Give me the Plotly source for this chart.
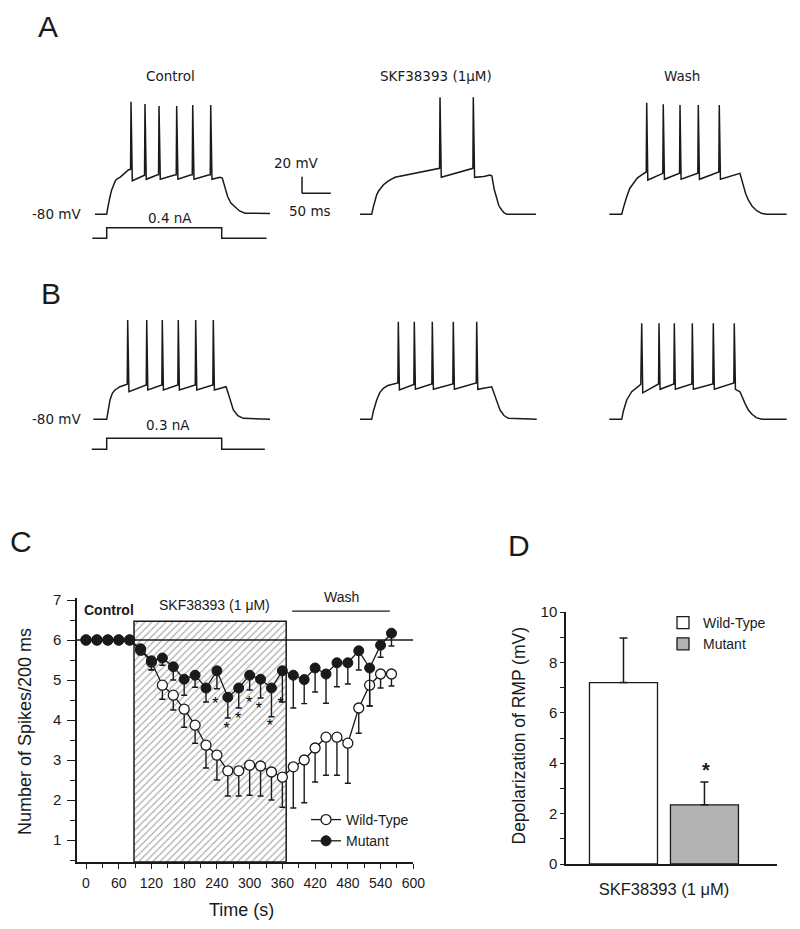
import plotly.graph_objects as go

W, H = 800, 929
KX, KY = 0.575, 0.833          # px per ms, px per mV for the voltage traces
BASE_MV = -80

# ---------------- Panel C data ----------------
time_s = [0, 20, 40, 60, 80, 100, 120, 140, 160, 180, 200, 220, 240, 260, 280,
          300, 320, 340, 360, 380, 400, 420, 440, 460, 480, 500, 520, 540, 560]
wt_mean = [6, 6, 6, 6, 6, 5.75, 5.45, 4.87, 4.62, 4.27, 3.87, 3.37, 3.12, 2.73, 2.73,
           2.87, 2.85, 2.70, 2.57, 2.83, 3.00, 3.30, 3.57, 3.57, 3.42, 4.30, 4.87, 5.15, 5.15]
wt_sem = [0, 0, 0, 0, 0, 0.12, 0.20, 0.35, 0.37, 0.45, 0.45, 0.57, 0.62, 0.63, 0.63,
          0.75, 0.75, 0.70, 0.75, 1.03, 1.07, 0.85, 0.95, 0.95, 1.00, 0.63, 0.52, 0.35, 0.30]
mut_mean = [6, 6, 6, 6, 6, 5.78, 5.48, 5.55, 5.33, 5.02, 5.12, 4.80, 5.23, 4.57, 4.80,
            5.12, 5.02, 4.80, 5.23, 5.12, 5.01, 5.30, 5.15, 5.43, 5.43, 5.73, 5.30, 5.87, 6.17]
mut_sem = [0, 0, 0, 0, 0, 0.13, 0.22, 0.18, 0.33, 0.40, 0.30, 0.35, 0.45, 0.52, 0.50,
           0.37, 0.47, 0.72, 0.78, 0.82, 0.60, 0.60, 0.73, 0.60, 0.53, 0.48, 0.95, 0.30, 0.32]
star_t = [237, 258, 279, 299, 317, 337, 357]
star_y = [4.37, 3.75, 4.00, 4.40, 4.25, 3.83, 4.37]
skf_start, skf_end, skf_top = 88, 367, 6.47
baseline_spikes = 6
wash_start, wash_end, wash_level = 378, 557, 6.72

# ---------------- Panel D data ----------------
groups = ["Wild-Type", "Mutant"]
rmp_mean = [7.2, 2.35]
rmp_sem = [1.77, 0.90]
d_category = "SKF38393 (1 μM)"

# ---------------- Panels A/B voltage traces (ms, mV) ----------------
A_CTRL = [(-20.3, -80), (0, -80), (1.7, -72.8), (3.5, -65), (5.7, -58.9), (8.5, -51), (11.5, -44.8),
          (14.5, -40.5), (17.4, -37.6), (23.1, -35.6), (30, -31.5), (37.6, -26.8), (41.5, -26),
          (42.3, 55.2), (44.5, -39.7),
          (61.9, -34), (65.8, -33), (66.6, 52.4), (68.8, -38),
          (87.5, -32.8), (90.2, -32.5), (91.0, 50), (93.2, -38),
          (117.9, -32.8), (120.9, -32.5), (121.7, 50), (123.9, -38),
          (145.7, -32.8), (148.8, -32.5), (149.6, 51.2), (151.8, -38),
          (177.0, -32.8), (180.1, -32.5), (180.9, 51.2), (183.1, -38),
          (197.0, -35.6), (201.0, -36.4), (205.0, -46), (210.4, -58.9), (216, -66.5), (223.1, -71.6),
          (231, -76), (240.5, -78.8), (284, -79)]
A_SKF = [(-20.3, -80), (0, -80), (2.5, -72), (5.7, -62.8), (8.5, -57), (12, -52), (16, -48),
         (20.2, -44.8), (25, -42), (30, -39.5), (40.5, -35.6), (118.0, -24.8), (118.8, 60.5),
         (121.0, -35.6),
         (176.0, -24.8), (176.7, 60.5), (178.9, -35.6), (195, -34.5), (205.7, -32.8),
         (209, -34), (213, -50), (217.4, -62.8), (221, -69.5), (226.1, -74.8), (230, -78),
         (234.8, -80), (285.7, -80)]
A_WASH = [(-21.6, -80), (0, -80), (3, -72), (5.5, -65), (8.7, -58.9), (14, -49), (20.2, -42.8),
          (27, -36.5), (34.8, -32.8), (42.7, -29.2), (43.5, 54), (45.4, -38.8),
          (71.5, -30.8), (72.3, 52), (74.3, -38),
          (100.6, -30.8), (101.4, 51.2), (103.3, -38),
          (132.4, -30.8), (133.2, 51.2), (135.2, -38),
          (168.9, -29.2), (169.7, 51.2), (171.7, -38),
          (205.7, -30.8), (211.5, -44.8), (215.5, -55), (220.2, -62.8), (227, -70.5),
          (234.8, -75.7), (243, -78.8), (252.2, -80), (287, -80)]
B_CTRL = [(-23.3, -80), (0, -80), (2.5, -70), (5.7, -56.8), (10, -48.5), (14.4, -44.8),
          (23.1, -40.9), (35.7, -38), (36.5, 39.2), (38.7, -46.9),
          (68.8, -38.8), (69.6, 39.2), (71.5, -44.8),
          (95.9, -38.8), (96.7, 39.2), (98.6, -44.8),
          (123.7, -38.8), (124.5, 39.2), (126.4, -44.8),
          (154.0, -38.8), (154.8, 39.2), (156.7, -44.8),
          (184.6, -38.8), (185.4, 39.2), (187.3, -44.8),
          (207.5, -40.9), (211, -48), (214.4, -56.8), (220.2, -68.8), (228, -75.5),
          (237.6, -78.8), (284, -80)]
B_SKF = [(-20.3, -80), (0, -80), (3, -70), (8.7, -56.8), (14, -48), (20.2, -42.8), (28, -39.5),
         (37.6, -37.6), (45.5, -36.4), (46.3, 37.2), (48.2, -44.8),
         (73.3, -38.2), (74.1, 37.2), (76.0, -44),
         (104.6, -37.6), (105.4, 37.2), (107.3, -44),
         (141.1, -37.6), (141.9, 37.2), (143.8, -44),
         (181.8, -36.4), (182.6, 37.2), (184.5, -44),
         (208.7, -41), (214.4, -52.9), (223.1, -68.8), (230, -75.5), (237.6, -78.8), (287, -80)]
B_WASH = [(-21.6, -80), (0, -80), (3, -70), (8.7, -56.8), (17.4, -46.9), (28.9, -40),
          (33.2, -38), (34.8, 35.2), (36.6, -48.2),
          (64.1, -37.6), (64.9, 35.2), (66.7, -44),
          (90.7, -37.6), (91.5, 35.2), (93.3, -44),
          (122.0, -37.6), (122.8, 35.2), (124.6, -44),
          (158.5, -37.6), (159.3, 35.2), (161.1, -44),
          (195.0, -36.4), (195.8, 35.2), (197.8, -44),
          (205.7, -46.9), (214.4, -60.8), (220, -68.5), (226.1, -73.6), (234, -78),
          (243.5, -80), (287, -80)]
# current steps (ms, nA)
I_A = [(-25, 0), (0, 0), (0, 0.4), (200, 0.4), (200, 0), (278, 0)]
I_B = [(-26, 0), (0, 0), (0, 0.3), (200, 0.3), (200, 0), (275, 0)]
SCALE_MV, SCALE_MS = 20, 50

# ---------------- helpers ----------------
def fx(px):
    return px / W

def fy(py):
    return 1 - py / H

def unzip(pts):
    return [p[0] for p in pts], [p[1] for p in pts]

FONT_SANS = "Arial, Liberation Sans, sans-serif"
FONT_DJ = "DejaVu Sans, Verdana, sans-serif"
INK = "#1a1a1a"

def trace_axes(x0, yb, t_rng=(-30, 300), v_rng=(-100, 70)):
    left = x0 + t_rng[0] * KX
    right = x0 + t_rng[1] * KX
    top = yb - (v_rng[1] - BASE_MV) * KY
    bot = yb - (v_rng[0] - BASE_MV) * KY
    xa = dict(domain=[fx(left), fx(right)], range=list(t_rng), visible=False, fixedrange=True,
              automargin=False)
    ya = dict(domain=[fy(bot), fy(top)], range=list(v_rng), visible=False, fixedrange=True,
              automargin=False)
    return xa, ya

def cur_axes(x0, yb, k, i_rng, t_rng=(-30, 300)):
    left = x0 + t_rng[0] * KX
    right = x0 + t_rng[1] * KX
    top = yb - i_rng[1] * k
    bot = yb - i_rng[0] * k
    xa = dict(domain=[fx(left), fx(right)], range=list(t_rng), visible=False, automargin=False)
    ya = dict(domain=[fy(bot), fy(top)], range=list(i_rng), visible=False, automargin=False)
    return xa, ya

fig = go.Figure()

# ---------------- Panel C ----------------
fig.add_trace(go.Bar(
    x=[(skf_start + skf_end) / 2], y=[skf_top - 0.45], base=[0.45], width=[skf_end - skf_start],
    marker=dict(color="white", line=dict(color=INK, width=1.5),
                pattern=dict(shape="/", fgcolor="#a8a8a8", bgcolor="white", size=5, solidity=0.22)),
    showlegend=False, hoverinfo="skip", xaxis="x", yaxis="y"))
fig.add_trace(go.Scatter(x=[-16.5, 600], y=[baseline_spikes, baseline_spikes], mode="lines",
                         line=dict(color=INK, width=1.3), showlegend=False, hoverinfo="skip",
                         xaxis="x", yaxis="y"))
fig.add_trace(go.Scatter(x=[wash_start, wash_end], y=[wash_level, wash_level], mode="lines",
                         line=dict(color=INK, width=1.3), showlegend=False, hoverinfo="skip",
                         xaxis="x", yaxis="y", cliponaxis=False))
fig.add_trace(go.Scatter(
    x=time_s, y=wt_mean, mode="lines+markers", name="Wild-Type",
    line=dict(color=INK, width=1.3),
    marker=dict(symbol="circle", size=10, color="white", line=dict(color=INK, width=1.3)),
    error_y=dict(type="data", symmetric=False, array=[0] * len(wt_sem), arrayminus=wt_sem,
                 color=INK, thickness=1.4, width=3),
    xaxis="x", yaxis="y", legend="legend"))
fig.add_trace(go.Scatter(
    x=time_s, y=mut_mean, mode="lines+markers", name="Mutant",
    line=dict(color=INK, width=1.3),
    marker=dict(symbol="circle", size=10, color=INK, line=dict(color=INK, width=1)),
    error_y=dict(type="data", symmetric=False, array=[0] * len(mut_sem), arrayminus=mut_sem,
                 color=INK, thickness=1.4, width=3),
    xaxis="x", yaxis="y", legend="legend"))
fig.add_trace(go.Scatter(x=star_t, y=star_y, mode="text", text=["*"] * len(star_t),
                         textfont=dict(family=FONT_SANS, size=16, color="black"),
                         showlegend=False, hoverinfo="skip", xaxis="x", yaxis="y"))

# ---------------- Panel D ----------------
fig.add_trace(go.Bar(
    x=[d_category], y=[rmp_mean[0]], name=groups[0],
    marker=dict(color="white", line=dict(color=INK, width=1.3)),
    error_y=dict(type="data", symmetric=False, array=[rmp_sem[0]], arrayminus=[0],
                 color=INK, thickness=1.5, width=4),
    xaxis="x2", yaxis="y2", legend="legend2"))
fig.add_trace(go.Bar(
    x=[d_category], y=[rmp_mean[1]], name=groups[1],
    marker=dict(color="#b3b3b3", line=dict(color=INK, width=1.3)),
    error_y=dict(type="data", symmetric=False, array=[rmp_sem[1]], arrayminus=[0],
                 color=INK, thickness=1.5, width=4),
    xaxis="x2", yaxis="y2", legend="legend2"))

# ---------------- Panels A/B traces ----------------
trace_specs = [
    (A_CTRL, 3, 106.7, 214.3, (-30, 400)),
    (A_SKF, 4, 371.7, 214.3, (-30, 300)),
    (A_WASH, 5, 621.7, 214.3, (-30, 300)),
    (B_CTRL, 6, 106.7, 419.3, (-30, 300)),
    (B_SKF, 7, 371.7, 419.3, (-30, 300)),
    (B_WASH, 8, 621.7, 419.3, (-30, 300)),
]
axes_layout = {}
for pts, n, x0, yb, trng in trace_specs:
    xa, ya = trace_axes(x0, yb, t_rng=trng)
    xa["anchor"] = f"y{n}"
    ya["anchor"] = f"x{n}"
    axes_layout[f"xaxis{n}"] = xa
    axes_layout[f"yaxis{n}"] = ya
    t, v = unzip(pts)
    fig.add_trace(go.Scatter(x=t, y=v, mode="lines", line=dict(color=INK, width=1.5),
                             showlegend=False, hoverinfo="skip", xaxis=f"x{n}", yaxis=f"y{n}"))

for pts, n, x0, yb, k, rng in [(I_A, 9, 106.7, 238.3, 26.5, (-0.3, 0.7)),
                               (I_B, 10, 106.7, 449.3, 36.7, (-0.2, 0.5))]:
    xa, ya = cur_axes(x0, yb, k, rng)
    xa["anchor"] = f"y{n}"
    ya["anchor"] = f"x{n}"
    axes_layout[f"xaxis{n}"] = xa
    axes_layout[f"yaxis{n}"] = ya
    t, c = unzip(pts)
    fig.add_trace(go.Scatter(x=t, y=c, mode="lines", line=dict(color=INK, width=1.5),
                             showlegend=False, hoverinfo="skip", xaxis=f"x{n}", yaxis=f"y{n}"))

# scale bar (on axis of A control trace)
sb_t0, sb_v0 = 339.7, -54.8
shapes = [
    dict(type="line", xref="x3", yref="y3", x0=sb_t0, x1=sb_t0, y0=sb_v0, y1=sb_v0 + SCALE_MV,
         line=dict(color=INK, width=1.5)),
    dict(type="line", xref="x3", yref="y3", x0=sb_t0, x1=sb_t0 + SCALE_MS, y0=sb_v0, y1=sb_v0,
         line=dict(color=INK, width=1.5)),
]

# ---------------- annotations ----------------
def ann(text, px, py, size, family=FONT_SANS, xanchor="center", angle=0, bold=False):
    if bold:
        text = f"<b>{text}</b>"
    return dict(text=text, x=fx(px), y=fy(py), xref="paper", yref="paper", showarrow=False,
                xanchor=xanchor, yanchor="middle", textangle=angle,
                font=dict(family=family, size=size, color=INK))

annotations = [
    ann("A", 48, 26, 30), ann("B", 51, 293, 30), ann("C", 21, 541, 30), ann("D", 519, 545, 30),
    ann("Control", 170.8, 75.5, 13.5, FONT_DJ),
    ann("SKF38393 (1μM)", 435.5, 76, 13.5, FONT_DJ),
    ann("Wash", 681.7, 75.5, 13.5, FONT_DJ),
    ann("-80 mV", 83, 214.3, 13.5, FONT_DJ, xanchor="right"),
    ann("-80 mV", 83, 419.3, 13.5, FONT_DJ, xanchor="right"),
    ann("0.4 nA", 170, 218, 13.5, FONT_DJ),
    ann("0.3 nA", 167.5, 425, 13.5, FONT_DJ),
    ann("20 mV", 296, 163.5, 13.5, FONT_DJ),
    ann("50 ms", 309.5, 211, 13.5, FONT_DJ),
    ann("Control", 108.5, 610, 14, bold=True),
    ann("SKF38393 (1 μM)", 214, 605, 14),
    ann("Wash", 341, 597, 14),
    ann("Number of Spikes/200 ms", 25, 732, 18, angle=-90),
    ann("Time (s)", 241.5, 910, 18),
    ann("Depolarization of RMP (mV)", 518.5, 736, 17.5, angle=-90),
    ann("*", 706, 770, 20, bold=True),
]

# ---------------- layout ----------------
c_x0, c_x1, c_y0, c_y1 = 77, 413.3, 598, 862
d_x0, d_x1, d_y0, d_y1 = 566, 777, 612, 864
layout = dict(
    template="none",
    width=W, height=H, autosize=False, margin=dict(l=0, r=0, t=0, b=0, pad=0, autoexpand=False),
    paper_bgcolor="white", plot_bgcolor="rgba(0,0,0,0)",
    barmode="group", bargap=0, bargroupgap=0.16,
    font=dict(family=FONT_SANS, color=INK),
    xaxis=dict(domain=[fx(c_x0), fx(c_x1)], range=[-16.5, 600], anchor="y", automargin=False,
               showline=True, linecolor=INK, linewidth=1.5, showgrid=False, zeroline=False,
               tickmode="linear", tick0=0, dtick=60, ticks="outside", ticklen=5, tickwidth=1.3,
               tickcolor=INK, tickfont=dict(family=FONT_SANS, size=14, color=INK),
               ticklabelstandoff=2,
               minor=dict(dtick=30, tick0=0, ticks="outside", ticklen=4, tickwidth=1.2, tickcolor=INK)),
    yaxis=dict(domain=[fy(c_y1), fy(c_y0)], range=[0.45, 7.05], anchor="x", automargin=False,
               showline=True, linecolor=INK, linewidth=1.5, showgrid=False, zeroline=False,
               tickmode="linear", tick0=1, dtick=1, ticks="outside", ticklen=8, tickwidth=1.3,
               tickcolor=INK, tickfont=dict(family=FONT_SANS, size=15, color=INK),
               ticklabelstandoff=3,
               minor=dict(dtick=0.5, tick0=0.5, ticks="outside", ticklen=5, tickwidth=1.2, tickcolor=INK)),
    xaxis2=dict(domain=[fx(d_x0), fx(d_x1)], range=[-0.605, 0.698], anchor="y2", type="category",
                automargin=False,
                showline=True, linecolor=INK, linewidth=1.5, showgrid=False, zeroline=False,
                ticks="outside", ticklen=9, tickcolor="rgba(0,0,0,0)",
                tickfont=dict(family=FONT_SANS, size=16.5, color=INK)),
    yaxis2=dict(domain=[fy(d_y1), fy(d_y0)], range=[0, 10], anchor="x2", automargin=False,
                showline=True, linecolor=INK, linewidth=1.5, showgrid=False, zeroline=False,
                tickmode="linear", tick0=0, dtick=2, ticks="outside", ticklen=4, tickwidth=1.3,
                tickcolor=INK, tickfont=dict(family=FONT_SANS, size=15, color=INK),
                minor=dict(dtick=1, ticks="outside", ticklen=4, tickwidth=1.2, tickcolor=INK)),
    legend=dict(x=fx(306), y=fy(804), xanchor="left", yanchor="top", bgcolor="rgba(0,0,0,0)",
                font=dict(family=FONT_SANS, size=14, color=INK), tracegroupgap=0,
                borderwidth=0),
    legend2=dict(x=fx(663), y=fy(607), xanchor="left", yanchor="top", bgcolor="rgba(0,0,0,0)",
                 font=dict(family=FONT_SANS, size=14, color=INK), tracegroupgap=0,
                 borderwidth=0, traceorder="normal"),
    shapes=shapes,
    annotations=annotations,
)
layout.update(axes_layout)
fig.update_layout(**layout)

PIN_PAGE = (
    "document.documentElement.style.margin='0';"
    "document.documentElement.style.overflow='hidden';"
    "document.body.style.margin='0';document.body.style.padding='0';"
    "document.body.style.overflow='hidden';"
    "var gd=document.getElementsByClassName('plotly-graph-div')[0];"
    "gd.style.position='absolute';gd.style.left='0px';gd.style.top='0px';"
)
fig.write_html("out.html", config=dict(displayModeBar=False), post_script=PIN_PAGE)
